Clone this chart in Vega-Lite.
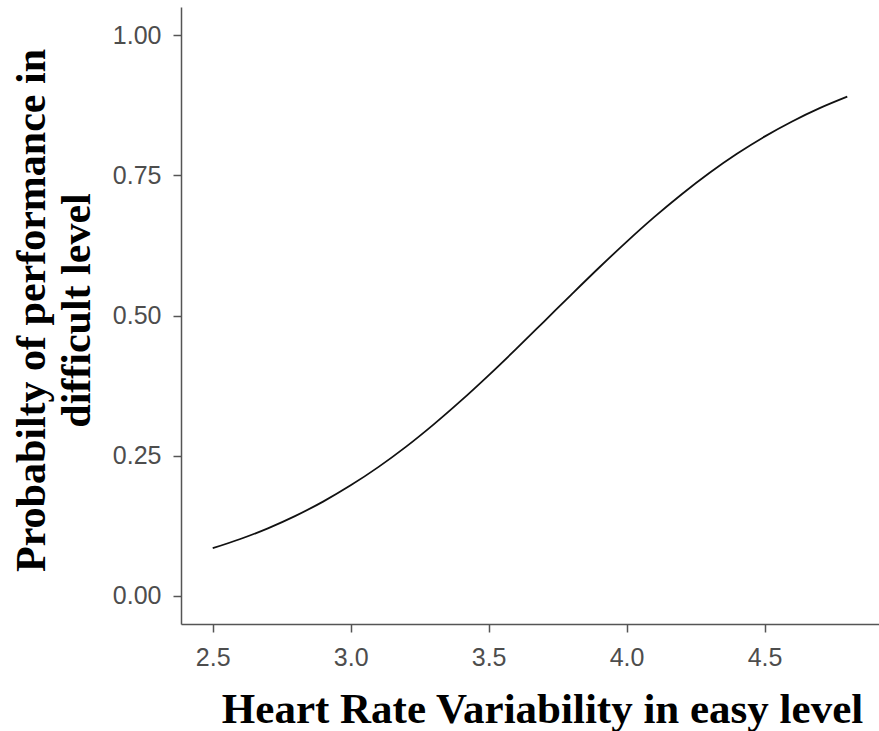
{
  "$schema": "https://vega.github.io/schema/vega-lite/v6.json",
  "width": 698,
  "height": 617,
  "autosize": {"type": "none"},
  "padding": {"left": 181, "top": 7, "right": 0, "bottom": 107},
  "background": "white",
  "config": {"view": {"stroke": null}},
  "data": {
    "values": [
      {"hrv": 2.5, "p": 0.0851},
      {"hrv": 2.6, "p": 0.1015},
      {"hrv": 2.7, "p": 0.1206},
      {"hrv": 2.8, "p": 0.1428},
      {"hrv": 2.9, "p": 0.1682},
      {"hrv": 3.0, "p": 0.1972},
      {"hrv": 3.1, "p": 0.2297},
      {"hrv": 3.2, "p": 0.2658},
      {"hrv": 3.3, "p": 0.3055},
      {"hrv": 3.4, "p": 0.3482},
      {"hrv": 3.5, "p": 0.3934},
      {"hrv": 3.6, "p": 0.4405},
      {"hrv": 3.7, "p": 0.4888},
      {"hrv": 3.8, "p": 0.5373},
      {"hrv": 3.9, "p": 0.5851},
      {"hrv": 4.0, "p": 0.6313},
      {"hrv": 4.1, "p": 0.6753},
      {"hrv": 4.2, "p": 0.7163},
      {"hrv": 4.3, "p": 0.7541},
      {"hrv": 4.4, "p": 0.7883},
      {"hrv": 4.5, "p": 0.8189},
      {"hrv": 4.6, "p": 0.8459},
      {"hrv": 4.7, "p": 0.8696},
      {"hrv": 4.8, "p": 0.8901}
    ]
  },
  "mark": {"type": "line", "color": "#111111", "strokeWidth": 1.8, "interpolate": "monotone"},
  "encoding": {
    "x": {
      "field": "hrv",
      "type": "quantitative",
      "scale": {"domain": [2.385, 4.915], "nice": false, "zero": false},
      "axis": {
        "values": [2.5, 3.0, 3.5, 4.0, 4.5],
        "format": ".1f",
        "grid": false,
        "domainColor": "#555555",
        "domainWidth": 1.5,
        "tickColor": "#555555",
        "tickWidth": 1.5,
        "tickSize": 8,
        "labelFont": "Liberation Sans",
        "labelFontSize": 25,
        "labelColor": "#4d4d4d",
        "labelPadding": 13,
        "title": "Heart Rate Variability in easy level",
        "titleFont": "Liberation Serif",
        "titleFontSize": 43,
        "titleFontWeight": "bold",
        "titleColor": "#000000",
        "titleX": 361,
        "titleY": 98,
        "titleBaseline": "alphabetic",
        "titleAnchor": "middle"
      }
    },
    "y": {
      "field": "p",
      "type": "quantitative",
      "scale": {"domain": [-0.05, 1.05], "nice": false, "zero": false},
      "axis": {
        "values": [0, 0.25, 0.5, 0.75, 1.0],
        "format": ".2f",
        "grid": false,
        "domainColor": "#555555",
        "domainWidth": 1.5,
        "tickColor": "#555555",
        "tickWidth": 1.5,
        "tickSize": 8,
        "labelFont": "Liberation Sans",
        "labelFontSize": 25,
        "labelColor": "#4d4d4d",
        "labelPadding": 12,
        "title": ["Probabilty of performance in", "difficult level"],
        "titleFont": "Liberation Serif",
        "titleFontSize": 42,
        "titleFontWeight": "bold",
        "titleColor": "#000000",
        "titleLineHeight": 45,
        "titleX": -150,
        "titleY": 303,
        "titleAngle": -90,
        "titleBaseline": "middle",
        "titleAnchor": "middle"
      }
    }
  }
}
